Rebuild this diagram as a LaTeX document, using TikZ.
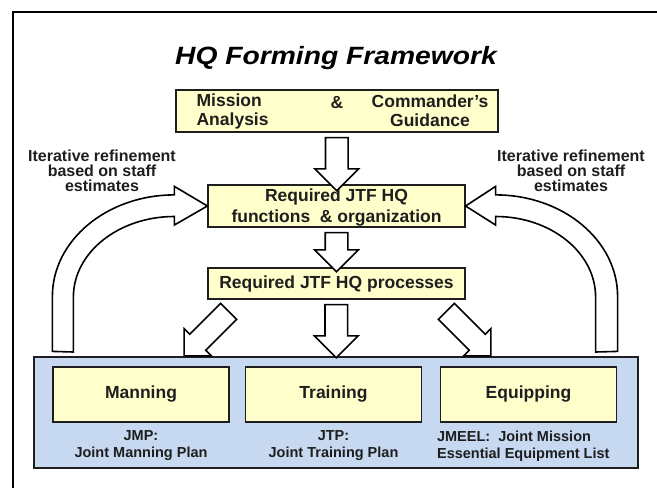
\documentclass[tikz,border=0pt]{standalone}
\usepackage{fontspec}
\setmainfont{Liberation Sans}
\newfontfamily\ttlfamily{Liberation Sans}[FakeStretch=1.13]
\usetikzlibrary{arrows.meta,positioning,shapes.arrows,calc}
\definecolor{boxyellow}{HTML}{FFFFCC}
\definecolor{panelblue}{HTML}{C6D9F1}
\definecolor{inkgray}{HTML}{1E1E1E}
\newcommand{\bxfont}{\fontsize{17.5}{19}\selectfont\bfseries}
\newcommand{\sdfont}{\fontsize{16}{15}\selectfont\bfseries}
\newcommand{\ntfont}{\fontsize{14.5}{17}\selectfont\bfseries}

\begin{document}
\begin{tikzpicture}[x=1pt, y=-1pt,
  ybox/.style={draw=inkgray, fill=boxyellow, line width=1.2pt, font=\bxfont,
               text=inkgray, align=center, inner sep=0pt},
  boxtext/.style={font=\bxfont, text=inkgray, align=center, inner sep=0pt},
  bluepanel/.style={draw=inkgray, fill=panelblue, line width=1.2pt, inner sep=0pt},
  blockarr/.style={single arrow, draw=black, fill=white, line width=1.6pt,
                   inner xsep=0pt, inner ysep=10.5pt, text height=0pt, text depth=0pt,
                   single arrow head extend=10.5pt},
  bigarr/.style={draw=black, fill=white, line width=1.6pt, line join=miter},
  sidenote/.style={font=\sdfont, text=inkgray, align=center, inner sep=0pt},
  plannote/.style={font=\ntfont, text=inkgray, align=center, inner sep=0pt},
]
\useasboundingbox (0,0) rectangle (657,488);
\fill[white] (0,0) rectangle (657,488);
% frame
\draw[line width=2pt] (13,488) -- (13,12) -- (657,12);

% title
\node[font=\ttlfamily\fontsize{25}{28}\selectfont\bfseries\itshape, anchor=base] (title) at (336,64) {HQ Forming Framework};

% top of the chain
\node[ybox, minimum width=322, minimum height=42] (mission) at (337,111) {};
\node[boxtext, anchor=west, align=left] (ma) at ($(mission.west)+(21,0)$) {Mission\\Analysis};
\node[boxtext] (amp) at ($(mission.center)+(0,-8)$) {\&};
\node[boxtext, anchor=east] (cg) at ($(mission.east)+(-10,0)$) {Commander's\\Guidance};

\node[ybox, minimum width=257, minimum height=42] (func) at (336.5,206) {};
\node[boxtext] (functxt) at ($(func.center)+(0,1.5)$) {Required JTF HQ\\[1.5pt]functions \ \& organization};
\node[ybox, minimum width=257, minimum height=31] (proc) at (336.5,283.5) {Required JTF HQ processes};

% bottom panel
\node[bluepanel, minimum width=604, minimum height=111] (panel) at (336,412.5) {};
\foreach \n/\x/\lbl in {man/141/Manning, trn/333.5/Training, eqp/528.5/Equipping} {
  \node[ybox, minimum width=176, minimum height=55] (\n) at (\x,394.5) {\lbl};
}
\node[plannote, anchor=north] (jmp) at ($(man.south)+(0,8)$) {JMP:\\Joint Manning Plan};
\node[plannote, anchor=north] (jtp) at ($(trn.south)+(0,8)$) {JTP:\\Joint Training Plan};
\node[plannote, anchor=north west, align=left] (jmeel) at ($(eqp.south west)+(-3,8)$) {JMEEL: \ Joint Mission\\Essential Equipment List};

% block arrows
\coordinate (pin) at ($(panel.north)+(0,-5)$);
\coordinate (fin) at ($(proc.north)+(0,-2)$);
\node[blockarr, rotate=-90, minimum height=53] (a1) at ($(mission.south)!0.5!(func.north)$) {};
\node[blockarr, rotate=-90, minimum height=39] (a2) at ($(func.south)!0.5!(fin)$) {};
\node[blockarr, rotate=-90, minimum height=53] (a3) at ($(proc.south)!0.5!(pin)$) {};
\node[blockarr, rotate=-135, minimum height=63, single arrow head extend=8pt] (a4) at ($(proc.south west)+(3,30)$) {};
\node[blockarr, rotate=-45, minimum height=63, single arrow head extend=8pt] (a5) at ($(proc.south east)+(-1,30)$) {};

% refinement loops
\draw[bigarr] ($(panel.north west)+(19,-5)$) -- ++(0,-55)
  arc[start angle=180, end angle=270, x radius=122, y radius=101.5]
  -- ++(0,-8.5) -- (func.west) -- ++(-33,19) -- ++(0,-8.5)
  arc[start angle=270, end angle=180, x radius=101, y radius=80.5]
  -- ++(0,55) -- cycle;
\draw[bigarr] ($(panel.north east)+(-21,-5)$) -- ++(0,-55)
  arc[start angle=0, end angle=-90, x radius=122, y radius=101.5]
  -- ++(0,-8.5) -- (func.east) -- ++(30,19) -- ++(0,-8.5)
  arc[start angle=-90, end angle=0, x radius=100, y radius=80.5]
  -- ++(0,55) -- cycle;

\node[sidenote] (itl) at (102,171) {Iterative refinement\\based on staff\\estimates};
\node[sidenote] (itr) at (571,171) {Iterative refinement\\based on staff\\estimates};
\end{tikzpicture}
\end{document}
